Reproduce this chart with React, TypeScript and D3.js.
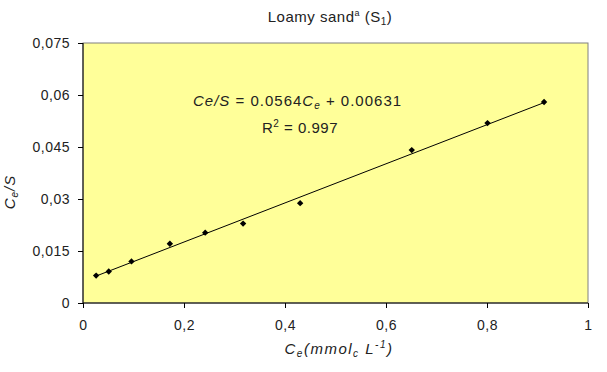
import React, { useRef, useEffect } from 'react';
import * as d3 from "d3";

const width = 607;
const height = 372;
const margin = { top: 43, right: 19, bottom: 69, left: 83 };

const ce = [0.026, 0.051, 0.096, 0.172, 0.242, 0.317, 0.430, 0.651, 0.801, 0.913];
const ceS = [0.0079, 0.0091, 0.0120, 0.0171, 0.0203, 0.0229, 0.0288, 0.0441, 0.0519, 0.0580];
const xTicks = [0, 0.2, 0.4, 0.6, 0.8, 1];
const yTicks = [0, 0.015, 0.03, 0.045, 0.06, 0.075];
const slope = 0.0564;
const intercept = 0.00631;

const font = "'Liberation Sans', Arial, sans-serif";
const ink = "#222";
const fmt = (v: number) => (v === 0 ? "0" : String(v).replace(".", ","));

export default function App() {
    const ref = useRef<SVGSVGElement>(null);

    useEffect(() => {
        const svg = d3.select(ref.current);
        svg.selectAll("*").remove();

        const x = d3.scaleLinear().domain([0, 1]).range([margin.left, width - margin.right]);
        const y = d3.scaleLinear().domain([0, 0.075]).range([height - margin.bottom, margin.top]);

        svg.append("rect")
            .attr("x", x(0)).attr("y", y(0.075))
            .attr("width", x(1) - x(0)).attr("height", y(0) - y(0.075))
            .attr("fill", "#ffff99")
            .attr("stroke", "#808080")
            .attr("stroke-width", 1);

        const xAxis = svg.append("g")
            .attr("transform", `translate(0,${y(0)})`)
            .call(d3.axisBottom(x).tickValues(xTicks).tickFormat(d => fmt(+d)).tickSize(5).tickSizeOuter(0).tickPadding(12));
        const yAxis = svg.append("g")
            .attr("transform", `translate(${x(0)},0)`)
            .call(d3.axisLeft(y).tickValues(yTicks).tickFormat(d => fmt(+d)).tickSize(5).tickSizeOuter(0).tickPadding(8));

        [xAxis, yAxis].forEach(g => {
            g.selectAll("text")
                .attr("font-family", font).attr("font-size", 14)
                .attr("letter-spacing", 0.5).attr("fill", ink);
            g.selectAll("line,path").attr("stroke", "#000");
        });
        xAxis.select(".domain").attr("d", `M${x(0)},0H${x(1)}`);
        yAxis.select(".domain").attr("d", `M0,${y(0)}V${y(0.075)}`);

        // trendline only spans the measured range
        const [x0, x1] = d3.extent(ce) as [number, number];
        const line = d3.line<number>().x(d => x(d)).y(d => y(slope * d + intercept));
        svg.append("path")
            .datum([x0, x1])
            .attr("fill", "none")
            .attr("stroke", "#000")
            .attr("stroke-width", 1)
            .attr("d", line);

        svg.append("g").selectAll("path")
            .data(ce.map((c, i) => [c, ceS[i]]))
            .join("path")
            .attr("transform", d => `translate(${x(d[0])},${y(d[1])})`)
            .attr("d", d3.symbol(d3.symbolDiamond2, 26)())
            .attr("fill", "#000");

        svg.append("text")
            .attr("x", 330).attr("y", 22)
            .attr("text-anchor", "middle")
            .attr("font-family", font).attr("font-size", 15)
            .attr("letter-spacing", 0.5).attr("fill", ink)
            .call(t => {
                t.append("tspan").text("Loamy sand");
                t.append("tspan").attr("font-size", 9).attr("dy", -6).text("a");
                t.append("tspan").attr("dy", 6).text(" (S");
                t.append("tspan").attr("font-size", 10).attr("dy", 3).text("1");
                t.append("tspan").attr("dy", -3).text(")");
            });

        svg.append("text")
            .attr("x", 193).attr("y", 106)
            .attr("font-family", font).attr("font-size", 15)
            .attr("letter-spacing", 1).attr("fill", ink)
            .call(t => {
                t.append("tspan").attr("font-style", "italic").text("Ce/S");
                t.append("tspan").text(" = 0.0564");
                t.append("tspan").attr("font-style", "italic").text("C");
                t.append("tspan").attr("font-style", "italic").attr("font-size", 10).attr("dy", 3).text("e");
                t.append("tspan").attr("dy", -3).text(" + 0.00631");
            });

        svg.append("text")
            .attr("x", 262).attr("y", 133)
            .attr("font-family", font).attr("font-size", 15)
            .attr("letter-spacing", 0.5).attr("fill", ink)
            .call(t => {
                t.append("tspan").text("R");
                t.append("tspan").attr("font-size", 10).attr("dy", -6).text("2");
                t.append("tspan").attr("dy", 6).text(" = 0.997");
            });

        svg.append("text")
            .attr("x", 339).attr("y", 354)
            .attr("text-anchor", "middle")
            .attr("font-family", font).attr("font-size", 15).attr("font-style", "italic")
            .attr("letter-spacing", 1.5).attr("fill", ink)
            .call(t => {
                t.append("tspan").text("C");
                t.append("tspan").attr("font-size", 10).attr("dy", 3).text("e");
                t.append("tspan").attr("dy", -3).text("(mmol");
                t.append("tspan").attr("font-size", 10).attr("dy", 3).text("c");
                t.append("tspan").attr("dy", -3).text(" L");
                t.append("tspan").attr("font-size", 10).attr("dy", -6).text("-1");
                t.append("tspan").attr("dy", 6).text(")");
            });

        svg.append("text")
            .attr("transform", `translate(15,192) rotate(-90)`)
            .attr("text-anchor", "middle")
            .attr("font-family", font).attr("font-size", 15).attr("font-style", "italic")
            .attr("letter-spacing", 1).attr("fill", ink)
            .call(t => {
                t.append("tspan").text("C");
                t.append("tspan").attr("font-size", 10).attr("dy", 3).text("e");
                t.append("tspan").attr("dy", -3).text("/S");
            });
    }, []);

    return (
        <svg ref={ref} width={width} height={height}
            style={{ position: "absolute", left: 0, top: 0, background: "#fff" }} />
    );
}
